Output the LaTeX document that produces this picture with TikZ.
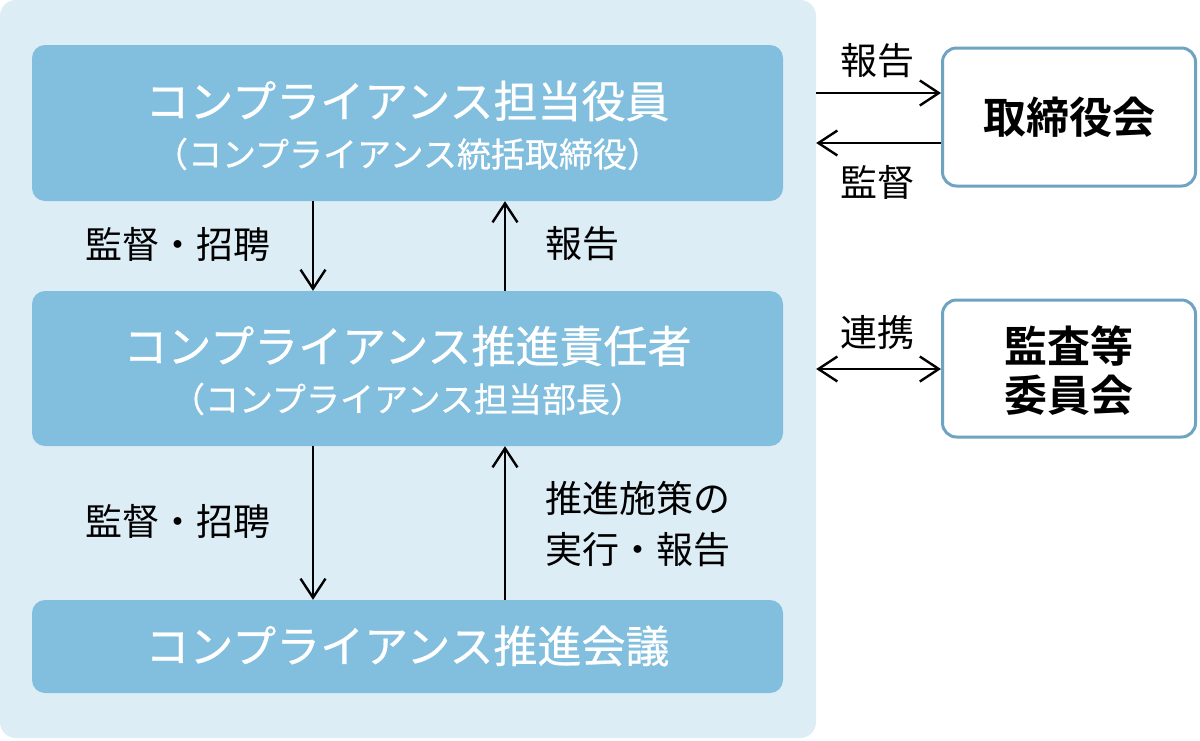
\documentclass[tikz,border=0pt]{standalone}
\usepackage{fontspec}
\setmainfont{Noto Sans CJK JP}
\newfontfamily\jpbold{Noto Sans CJK JP Bold}
\newfontfamily\jpmed[FakeBold=0.6]{Noto Sans CJK JP}
\usetikzlibrary{arrows.meta}
\definecolor{bgblue}{HTML}{DDEDF6}
\definecolor{boxblue}{HTML}{82BEDD}
\definecolor{edgeblue}{HTML}{6FA3C2}
\tikzset{
  mainbox/.style={fill=boxblue, draw=none, rounded corners=13pt, minimum width=751pt, inner sep=0pt},
  sidebox/.style={fill=white, draw=edgeblue, line width=3pt, rounded corners=14pt, minimum width=253pt, inner sep=0pt},
  big/.style={text=white, font=\jpmed\fontsize{44}{50}\selectfont, inner sep=0pt},
  small/.style={text=white, font=\jpmed\fontsize{34}{38}\selectfont, inner sep=0pt},
  lbl/.style={text=black, font=\fontsize{37}{51}\selectfont, inner sep=0pt, align=left},
  sidetext/.style={text=black, font=\jpbold\fontsize{43}{49}\selectfont, inner sep=0pt, align=center},
  tip/.tip={Straight Barb[length=19pt,width=25pt,line width=2.4pt]},
  arr/.style={draw=black, line width=2.4pt, -tip},
  darr/.style={draw=black, line width=2.4pt, tip-tip}
}
\begin{document}
\begin{tikzpicture}[x=1pt,y=-1pt]
\useasboundingbox (0,0) rectangle (1200,740);
% background panel
\node[fill=bgblue, rounded corners=16pt, minimum width=816pt, minimum height=738pt, inner sep=0pt] (bg) at (408,369) {};
% main boxes
\node[mainbox, minimum height=156pt] (b1) at (407.5,123) {};
\node[mainbox, minimum height=155pt] (b2) at (407.5,368.5) {};
\node[mainbox, minimum height=93pt] (b3) at (407.5,646.5) {};
\node[big] (b1a) at (407.5,101) {コンプライアンス担当役員};
\node[small] (b1b) at (407.5,154) {（コンプライアンス統括取締役）};
\node[big] (b2a) at (407.5,346) {コンプライアンス推進責任者};
\node[small] (b2b) at (407.5,399) {（コンプライアンス担当部長）};
\node[big] (b3a) at (407.5,646) {コンプライアンス推進会議};
% side boxes
\node[sidebox, minimum height=138pt] (board) at (1069,117) {};
\node[sidetext] (boardt) at (1069,117) {取締役会};
\node[sidebox, minimum height=137pt] (audit) at (1069,368.5) {};
\node[sidetext] (auditt) at (1069,371) {監査等\\委員会};
% vertical arrows
\coordinate (xl) at (313,0);
\coordinate (xr) at (505,0);
\draw[arr] (b1.south -| xl) -- (b2.north -| xl);
\draw[arr] (b2.north -| xr) -- (b1.south -| xr);
\draw[arr] (b2.south -| xl) -- (b3.north -| xl);
\draw[arr] (b3.north -| xr) -- (b2.south -| xr);
\node[lbl, anchor=west] (l1) at (85,244) {監督・招聘};
\node[lbl, anchor=west] (l2) at (545,244) {報告};
\node[lbl, anchor=west] (l3) at (85,521) {監督・招聘};
\node[lbl, anchor=west] (l4) at (545,524) {推進施策の\\実行・報告};
% side arrows
\coordinate (y1) at (0,93);
\coordinate (y2) at (0,143);
\coordinate (y3) at (0,369);
\draw[arr] (bg.east |- y1) -- (board.west |- y1);
\draw[arr] (board.west |- y2) -- (bg.east |- y2);
\draw[darr] (bg.east |- y3) -- (audit.west |- y3);
\node[lbl] (l5) at (877,61) {報告};
\node[lbl] (l6) at (877,182) {監督};
\node[lbl] (l7) at (877,332) {連携};
\end{tikzpicture}
\end{document}
